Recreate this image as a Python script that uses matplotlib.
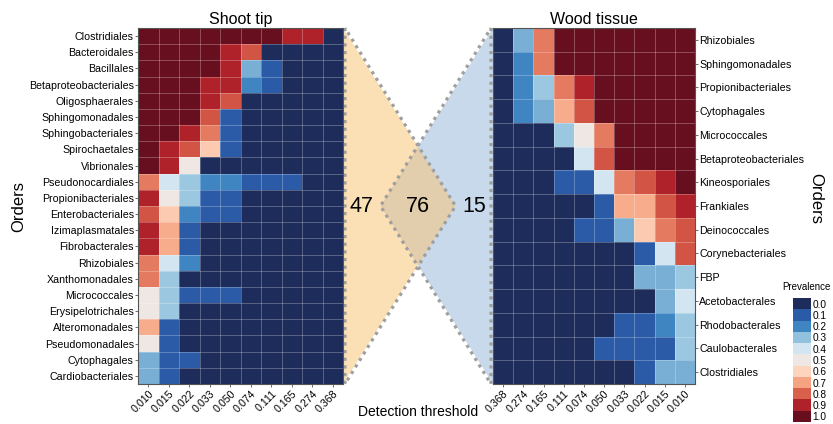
import numpy as np
import matplotlib
matplotlib.use("Agg")
import matplotlib.pyplot as plt
from matplotlib.colors import LinearSegmentedColormap, ListedColormap
from matplotlib.patches import Polygon

plt.rcParams["font.family"] = ["Liberation Sans", "DejaVu Sans"]

# prevalence scale colours (0.0 .. 1.0)
prev_levels = [0.0, 0.1, 0.2, 0.3, 0.4, 0.5, 0.6, 0.7, 0.8, 0.9, 1.0]
prev_colors = ["#1e2c5b", "#2b5ba7", "#3e85c2", "#91c1dd", "#d2e5f1", "#eee7e4",
               "#fdd4bd", "#f6a381", "#d9604b", "#b0222a", "#670f1f"]

shoot_thresholds = ["0.010", "0.015", "0.022", "0.033", "0.050", "0.074", "0.111", "0.165", "0.274", "0.368"]
wood_thresholds = ["0.368", "0.274", "0.165", "0.111", "0.074", "0.050", "0.033", "0.022", "0.015", "0.010"]

shoot_orders = ["Clostridiales", "Bacteroidales", "Bacillales", "Betaproteobacteriales",
                "Oligosphaerales", "Sphingomonadales", "Sphingobacteriales", "Spirochaetales",
                "Vibrionales", "Pseudonocardiales", "Propionibacteriales", "Enterobacteriales",
                "Izimaplasmatales", "Fibrobacterales", "Rhizobiales", "Xanthomonadales",
                "Micrococcales", "Erysipelotrichales", "Alteromonadales", "Pseudomonadales",
                "Cytophagales", "Cardiobacteriales"]

shoot_prev = [
    [1.0, 1.0, 1.0, 1.0, 1.0, 1.0, 1.0, 0.9, 0.9, 0.0],
    [1.0, 1.0, 1.0, 1.0, 0.9, 0.82, 0.0, 0.0, 0.0, 0.0],
    [1.0, 1.0, 1.0, 1.0, 0.9, 0.27, 0.1, 0.0, 0.0, 0.0],
    [1.0, 1.0, 1.0, 0.9, 0.9, 0.2, 0.1, 0.0, 0.0, 0.0],
    [1.0, 1.0, 1.0, 0.9, 0.82, 0.0, 0.0, 0.0, 0.0, 0.0],
    [1.0, 1.0, 1.0, 0.82, 0.1, 0.0, 0.0, 0.0, 0.0, 0.0],
    [1.0, 1.0, 0.9, 0.76, 0.1, 0.0, 0.0, 0.0, 0.0, 0.0],
    [1.0, 0.9, 0.82, 0.62, 0.1, 0.0, 0.0, 0.0, 0.0, 0.0],
    [1.0, 0.9, 0.5, 0.0, 0.0, 0.0, 0.0, 0.0, 0.0, 0.0],
    [0.76, 0.4, 0.32, 0.2, 0.2, 0.1, 0.1, 0.1, 0.0, 0.0],
    [0.9, 0.5, 0.32, 0.1, 0.1, 0.0, 0.0, 0.0, 0.0, 0.0],
    [0.82, 0.62, 0.2, 0.1, 0.1, 0.0, 0.0, 0.0, 0.0, 0.0],
    [0.9, 0.68, 0.1, 0.0, 0.0, 0.0, 0.0, 0.0, 0.0, 0.0],
    [0.9, 0.68, 0.1, 0.0, 0.0, 0.0, 0.0, 0.0, 0.0, 0.0],
    [0.76, 0.4, 0.2, 0.0, 0.0, 0.0, 0.0, 0.0, 0.0, 0.0],
    [0.76, 0.32, 0.0, 0.0, 0.0, 0.0, 0.0, 0.0, 0.0, 0.0],
    [0.5, 0.32, 0.1, 0.1, 0.1, 0.0, 0.0, 0.0, 0.0, 0.0],
    [0.5, 0.32, 0.0, 0.0, 0.0, 0.0, 0.0, 0.0, 0.0, 0.0],
    [0.68, 0.1, 0.0, 0.0, 0.0, 0.0, 0.0, 0.0, 0.0, 0.0],
    [0.5, 0.1, 0.0, 0.0, 0.0, 0.0, 0.0, 0.0, 0.0, 0.0],
    [0.27, 0.1, 0.1, 0.0, 0.0, 0.0, 0.0, 0.0, 0.0, 0.0],
    [0.27, 0.1, 0.0, 0.0, 0.0, 0.0, 0.0, 0.0, 0.0, 0.0],
]

wood_orders = ["Rhizobiales", "Sphingomonadales", "Propionibacteriales", "Cytophagales",
               "Micrococcales", "Betaproteobacteriales", "Kineosporiales", "Frankiales",
               "Deinococcales", "Corynebacteriales", "FBP", "Acetobacterales",
               "Rhodobacterales", "Caulobacterales", "Clostridiales"]

wood_prev = [
    [0.0, 0.27, 0.76, 1.0, 1.0, 1.0, 1.0, 1.0, 1.0, 1.0],
    [0.0, 0.2, 0.76, 1.0, 1.0, 1.0, 1.0, 1.0, 1.0, 1.0],
    [0.0, 0.2, 0.32, 0.76, 0.9, 1.0, 1.0, 1.0, 1.0, 1.0],
    [0.0, 0.2, 0.27, 0.68, 0.82, 1.0, 1.0, 1.0, 1.0, 1.0],
    [0.0, 0.0, 0.0, 0.32, 0.5, 0.76, 1.0, 1.0, 1.0, 1.0],
    [0.0, 0.0, 0.0, 0.0, 0.4, 0.82, 1.0, 1.0, 1.0, 1.0],
    [0.0, 0.0, 0.0, 0.1, 0.1, 0.4, 0.76, 0.82, 0.9, 1.0],
    [0.0, 0.0, 0.0, 0.0, 0.0, 0.1, 0.68, 0.68, 0.82, 0.9],
    [0.0, 0.0, 0.0, 0.0, 0.1, 0.1, 0.27, 0.62, 0.76, 0.82],
    [0.0, 0.0, 0.0, 0.0, 0.0, 0.0, 0.0, 0.1, 0.4, 0.82],
    [0.0, 0.0, 0.0, 0.0, 0.0, 0.0, 0.0, 0.27, 0.27, 0.32],
    [0.0, 0.0, 0.0, 0.0, 0.0, 0.0, 0.0, 0.0, 0.27, 0.4],
    [0.0, 0.0, 0.0, 0.0, 0.0, 0.0, 0.1, 0.1, 0.2, 0.32],
    [0.0, 0.0, 0.0, 0.0, 0.0, 0.1, 0.1, 0.1, 0.1, 0.32],
    [0.0, 0.0, 0.0, 0.0, 0.0, 0.0, 0.0, 0.1, 0.27, 0.27],
]

# shared orders: only shoot, both, only wood
venn_counts = [47, 76, 15]

cmap = LinearSegmentedColormap.from_list("prev", list(zip(prev_levels, prev_colors)))

W, H = 833, 424
fig = plt.figure(figsize=(W / 100, H / 100), dpi=100)


def px_axes(x0, y0, x1, y1):
    return fig.add_axes([x0 / W, 1 - y1 / H, (x1 - x0) / W, (y1 - y0) / H])


def heatmap(ax, data, rows, cols, side):
    data = np.array(data)
    ax.pcolormesh(data, cmap=cmap, vmin=0, vmax=1)
    ax.set_xlim(0, data.shape[1])
    ax.set_ylim(data.shape[0], 0)
    for i in range(1, data.shape[1]):
        ax.axvline(i, color="white", lw=0.6, alpha=0.3)
    for j in range(1, data.shape[0]):
        ax.axhline(j, color="white", lw=0.6, alpha=0.3)
    ax.set_xticks(np.arange(data.shape[1]) + 0.5)
    ax.set_xticklabels(cols, rotation=45, ha="right", rotation_mode="anchor", fontsize=7.7)
    ax.set_yticks(np.arange(data.shape[0]) + 0.5)
    ax.set_yticklabels(rows, fontsize=7.7)
    ax.tick_params(length=2, width=0.6, color="#555555", pad=1)
    if side == "right":
        ax.yaxis.tick_right()
    for s in ax.spines.values():
        s.set_color("#555555")
        s.set_linewidth(0.8)


ax_s = px_axes(138, 28, 343, 384)
heatmap(ax_s, shoot_prev, shoot_orders, shoot_thresholds, "left")
ax_s.set_title("Shoot tip", fontsize=11.5, pad=3)

ax_w = px_axes(493, 28, 695, 384)
heatmap(ax_w, wood_prev, wood_orders, wood_thresholds, "right")
ax_w.set_title("Wood tissue", fontsize=11.5, pad=3)

# venn-like triangles in pixel space, built from the heatmap edges
ov = fig.add_axes([0, 0, 1, 1], zorder=-1)
ov.set_xlim(0, W)
ov.set_ylim(H, 0)
ov.axis("off")
left_edge, right_edge, top, bottom = 343, 493, 28, 384
gap = right_edge - left_edge
mid = (top + bottom) / 2
orange_tip = left_edge + 0.75 * gap
blue_tip = right_edge - 0.75 * gap
ov.add_patch(Polygon([(right_edge, top), (right_edge, bottom), (blue_tip, mid)],
                     closed=True, facecolor="#95b5db", alpha=0.5, edgecolor="none"))
ov.add_patch(Polygon([(left_edge, top), (left_edge, bottom), (orange_tip, mid)],
                     closed=True, facecolor="#fbc36d", alpha=0.5, edgecolor="none"))
for tri in ([(left_edge + 2, top), (left_edge + 2, bottom), (orange_tip, mid)],
            [(right_edge - 2, top), (right_edge - 2, bottom), (blue_tip, mid)]):
    xs = [p[0] for p in tri] + [tri[0][0]]
    ys = [p[1] for p in tri] + [tri[0][1]]
    ov.plot(xs, ys, color="#9f9f9f", lw=2.3, ls=(0, (1, 1.4)), solid_capstyle="butt")

ov.text((left_edge + blue_tip) / 2, mid, str(venn_counts[0]), fontsize=15.5, ha="center", va="center")
ov.text((blue_tip + orange_tip) / 2, mid, str(venn_counts[1]), fontsize=15.5, ha="center", va="center")
ov.text((orange_tip + right_edge) / 2, mid, str(venn_counts[2]), fontsize=15.5, ha="center", va="center")

fig.text(418 / W, 1 - 412 / H, "Detection threshold", fontsize=10, ha="center", va="center")
fig.text(19 / W, 1 - 207 / H, "Orders", fontsize=12, rotation=90, ha="center", va="center")
fig.text(816 / W, 1 - 198 / H, "Orders", fontsize=12, rotation=270, ha="center", va="center")

# discrete legend
ax_c = px_axes(793, 298, 811, 422)
ax_c.imshow(np.arange(len(prev_levels)).reshape(-1, 1), cmap=ListedColormap(prev_colors),
            aspect="auto", interpolation="nearest")
ax_c.set_xticks([])
ax_c.set_yticks(np.arange(len(prev_levels)))
ax_c.set_yticklabels([f"{v:.1f}" for v in prev_levels], fontsize=7.3)
ax_c.yaxis.tick_right()
ax_c.tick_params(length=0, pad=1)
for s in ax_c.spines.values():
    s.set_visible(False)
fig.text(806 / W, 1 - 287 / H, "Prevalence", fontsize=7, ha="center", va="center")

fig.savefig("out.png", dpi=100)
